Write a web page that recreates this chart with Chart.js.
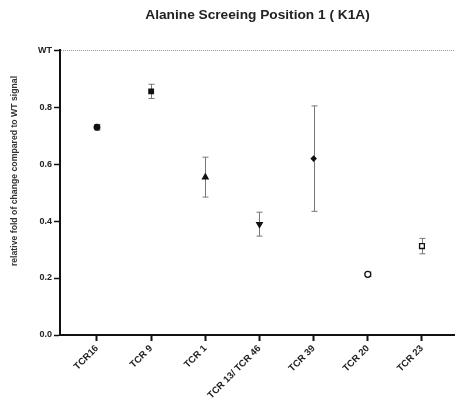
<!DOCTYPE html>
<html>
<head>
<meta charset="utf-8">
<script src="https://cdn.jsdelivr.net/npm/chart.js@4"></script>
<style>
  html, body { margin: 0; padding: 0; background: #fff; }
  #wrap { width: 455px; height: 409px; }
</style>
</head>
<body>
<div id="wrap"><canvas id="chart"></canvas></div>
<script>
// data
const tcrLabels = ['TCR16', 'TCR 9', 'TCR 1', 'TCR 13/ TCR 46', 'TCR 39', 'TCR 20', 'TCR 23'];
const foldValues = [0.729, 0.855, 0.554, 0.389, 0.619, 0.213, 0.312];
const foldErrors = [0.010, 0.025, 0.070, 0.042, 0.185, 0.008, 0.027];
const yTicks = [0, 0.2, 0.4, 0.6, 0.8, 1.0];

const markerStyles = ['circle', 'rect', 'triangle', 'triangle', 'rectRot', 'circle', 'rect'];
const markerRotation = [0, 0, 0, 180, 0, 0, 0];
const markerFill = ['#111', '#111', '#111', '#111', '#111', '#fff', '#fff'];
const markerRadius = [2.8, 3.2, 3.2, 3.2, 2.4, 3, 3.4];

const FONT = "'Liberation Sans', Arial, sans-serif";

// error bars, drawn under the markers
const errorBars = {
  id: 'errorBars',
  beforeDatasetsDraw(chart) {
    const { ctx, scales: { x, y } } = chart;
    ctx.save();
    ctx.strokeStyle = '#777';
    ctx.lineWidth = 1;
    foldValues.forEach((v, i) => {
      const px = Math.round(x.getPixelForValue(i)) + 0.5;
      const top = y.getPixelForValue(v + foldErrors[i]);
      const bot = y.getPixelForValue(v - foldErrors[i]);
      ctx.beginPath();
      ctx.moveTo(px, top); ctx.lineTo(px, bot);
      ctx.moveTo(px - 3, top); ctx.lineTo(px + 3, top);
      ctx.moveTo(px - 3, bot); ctx.lineTo(px + 3, bot);
      ctx.stroke();
    });
    ctx.restore();
  }
};

// y axis title, placed like the original
const yTitle = {
  id: 'yTitle',
  afterDraw(chart) {
    const { ctx } = chart;
    ctx.save();
    ctx.translate(15, 171);
    ctx.rotate(-Math.PI / 2);
    ctx.font = 'bold 8.7px ' + FONT;
    ctx.fillStyle = '#333';
    ctx.textAlign = 'center';
    ctx.textBaseline = 'middle';
    ctx.fillText('relative fold of change compared to WT signal', 0, 0);
    ctx.restore();
  }
};

new Chart(document.getElementById('chart'), {
  type: 'scatter',
  data: {
    datasets: [{
      data: foldValues.map((v, i) => ({ x: i, y: v })),
      pointStyle: markerStyles,
      rotation: markerRotation,
      backgroundColor: markerFill,
      borderColor: '#111',
      borderWidth: 1.3,
      pointRadius: markerRadius,
      pointHoverRadius: markerRadius
    }]
  },
  options: {
    responsive: true,
    maintainAspectRatio: false,
    animation: false,
    layout: { autoPadding: false, padding: { left: 0, right: 0, top: 0, bottom: 0 } },
    plugins: {
      legend: { display: false },
      tooltip: { enabled: false },
      title: {
        display: true,
        fullSize: false,
        text: 'Alanine Screeing Position 1 ( K1A)',
        color: '#222',
        font: { family: FONT, size: 13.7, weight: 'bold' },
        padding: { top: 6.8, bottom: 26.8 }
      }
    },
    scales: {
      x: {
        type: 'linear',
        min: -0.683,
        max: 6.61,
        afterBuildTicks: axis => { axis.ticks = tcrLabels.map((_, i) => ({ value: i })); },
        afterFit: scale => { scale.height = 74; scale.paddingRight = 0; scale.paddingLeft = 0; },
        border: { color: '#111', width: 2 },
        grid: { drawOnChartArea: false, tickLength: 6, tickColor: '#111', tickWidth: 2 },
        ticks: {
          autoSkip: false,
          minRotation: 45,
          maxRotation: 45,
          padding: 2,
          color: '#222',
          font: { family: FONT, size: 9.5, weight: 'bold' },
          callback: value => tcrLabels[value]
        }
      },
      y: {
        min: 0,
        max: 1,
        afterBuildTicks: axis => { axis.ticks = yTicks.map(v => ({ value: v })); },
        afterFit: scale => { scale.width = 60; scale.paddingTop = 0; scale.paddingBottom = 0; },
        border: { color: '#111', width: 2, dash: [1, 1] },
        grid: {
          color: c => (c.tick && c.tick.value === 1 ? '#999' : 'rgba(0,0,0,0)'),
          lineWidth: 1,
          tickLength: 6,
          tickColor: '#111',
          tickWidth: 1.5,
          tickBorderDash: []
        },
        ticks: {
          padding: 2,
          color: '#222',
          font: { family: FONT, size: 9, weight: 'bold' },
          callback: value => (value === 1 ? 'WT' : value.toFixed(1))
        }
      }
    }
  },
  plugins: [errorBars, yTitle]
});
</script>
</body>
</html>
